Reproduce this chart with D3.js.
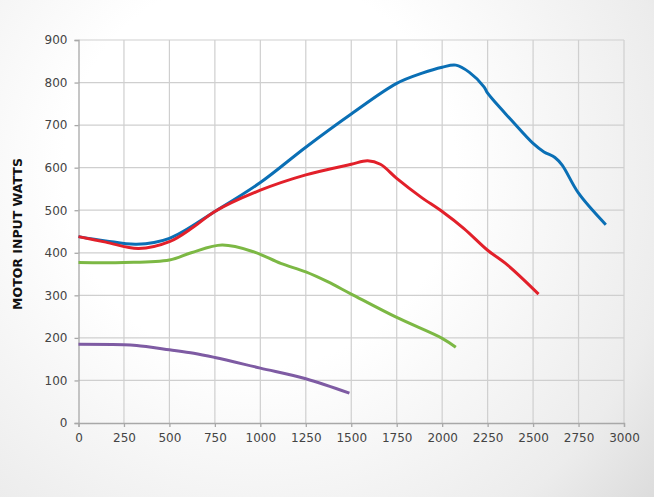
<!DOCTYPE html>
<html><head><meta charset="utf-8">
<script src="https://cdn.jsdelivr.net/npm/d3@7"></script>
<style>html,body{margin:0;padding:0;background:#fff;}svg{display:block;}</style>
</head><body>
<script>
const xTicks = [0,250,500,750,1000,1250,1500,1750,2000,2250,2500,2750,3000];
const yTicks = [0,100,200,300,400,500,600,700,800,900];
const yTitle = "MOTOR INPUT WATTS";

const blueX = [0,150,320,500,750,1000,1250,1500,1750,1890,2000,2075,2150,2230,2250,2380,2500,2560,2620,2660,2750,2900];
const blueY = [438,428,420,434,497,565,648,726,798,822,836,841,824,790,775,712,657,637,624,606,540,466];
const redX = [0,150,330,500,634,750,1000,1250,1500,1590,1660,1750,1880,2000,2120,2250,2360,2530];
const redY = [438,425,410,426,461,497,547,583,608,616,608,575,532,497,457,406,371,303];
const greenX = [0,250,500,620,790,965,1112,1250,1370,1500,1750,2000,2075];
const greenY = [377,377,383,400,418,402,375,355,332,303,248,199,178];
const purpleX = [0,250,320,500,634,750,1000,1250,1490];
const purpleY = [185,184,182,172,164,154,129,104,70];

const series = [
  {x: blueX, y: blueY, color: "#0a6fb5"},
  {x: redX, y: redY, color: "#e2202a"},
  {x: greenX, y: greenY, color: "#7cb844"},
  {x: purpleX, y: purpleY, color: "#7e5ba3"}
];

const W = 654, H = 497;
const svg = d3.select("body").append("svg").attr("width", W).attr("height", H);
const defs = svg.append("defs");
const grad = defs.append("radialGradient").attr("id","bg")
  .attr("gradientUnits","userSpaceOnUse").attr("cx",260).attr("cy",170).attr("r",560);
grad.append("stop").attr("offset","0.35").attr("stop-color","#ffffff");
grad.append("stop").attr("offset","0.75").attr("stop-color","#ececec");
grad.append("stop").attr("offset","1").attr("stop-color","#d4d4d4");
svg.append("rect").attr("width",W).attr("height",H).attr("fill","url(#bg)");

const x = d3.scaleLinear().domain([0,3000]).range([78.5,624]);
const y = d3.scaleLinear().domain([0,900]).range([423,40]);

const g = svg.append("g");
g.selectAll(".vg").data(xTicks.slice(1)).join("line")
  .attr("x1",d=>x(d)).attr("x2",d=>x(d)).attr("y1",y(0)).attr("y2",y(900))
  .attr("stroke","#cfcfcf").attr("stroke-width",1.2);
g.selectAll(".hg").data(yTicks.slice(1)).join("line")
  .attr("x1",x(0)).attr("x2",x(3000)).attr("y1",d=>y(d)).attr("y2",d=>y(d))
  .attr("stroke","#cfcfcf").attr("stroke-width",1.2);

const fontFam = "'DejaVu Sans', sans-serif";
const xAxis = d3.axisBottom(x).tickValues(xTicks).tickSize(4).tickPadding(6).tickFormat(d3.format("d"));
const yAxis = d3.axisLeft(y).tickValues(yTicks).tickSize(4).tickPadding(7).tickFormat(d3.format("d"));
const gx = svg.append("g").attr("transform",`translate(0,${y(0)})`).call(xAxis);
const gy = svg.append("g").attr("transform",`translate(${x(0)},0)`).call(yAxis);
[gx,gy].forEach(a=>{
  a.select(".domain").attr("stroke","#a8a8a8").attr("stroke-width",1.3);
  a.selectAll(".tick line").attr("stroke","#a8a8a8").attr("stroke-width",1.3);
  a.selectAll("text").attr("fill","#444").style("font-family",fontFam).style("font-size","12px");
});

svg.append("text").attr("transform","translate(22,234) rotate(-90)")
  .attr("text-anchor","middle").style("font-family",fontFam).style("font-weight","bold")
  .style("font-size","12.5px").attr("fill","#111").text(yTitle);

const line = d3.line().x(d=>x(d[0])).y(d=>y(d[1])).curve(d3.curveCatmullRom.alpha(0.5));
series.forEach(s=>{
  const pts = s.x.map((v,i)=>[v,s.y[i]]);
  svg.append("path").attr("d",line(pts)).attr("fill","none")
    .attr("stroke",s.color).attr("stroke-width",3).attr("stroke-linejoin","round");
});
</script>
</body></html>
